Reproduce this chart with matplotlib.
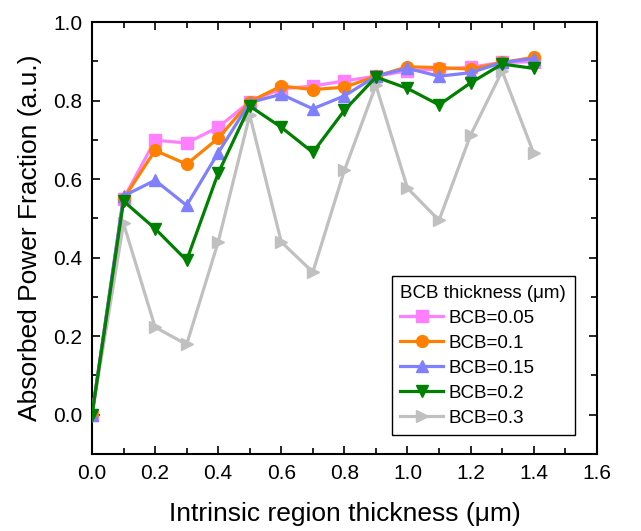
import matplotlib
matplotlib.use("Agg")
import matplotlib.pyplot as plt
from matplotlib.ticker import MultipleLocator

plt.rcParams['font.family'] = ['Liberation Sans', 'DejaVu Sans']

x = [0.0, 0.1, 0.2, 0.3, 0.4, 0.5, 0.6, 0.7, 0.8, 0.9, 1.0, 1.1, 1.2, 1.3, 1.4]
bcb_005 = [0.0, 0.55, 0.699, 0.692, 0.732, 0.797, 0.830, 0.837, 0.850, 0.862, 0.876, 0.880, 0.885, 0.897, 0.899]
bcb_010 = [0.0, 0.55, 0.673, 0.638, 0.704, 0.797, 0.837, 0.828, 0.834, 0.862, 0.886, 0.884, 0.880, 0.897, 0.910]
bcb_015 = [0.0, 0.557, 0.597, 0.533, 0.667, 0.795, 0.816, 0.779, 0.812, 0.862, 0.882, 0.862, 0.871, 0.897, 0.907]
bcb_020 = [0.0, 0.544, 0.474, 0.393, 0.615, 0.786, 0.732, 0.668, 0.775, 0.860, 0.831, 0.789, 0.845, 0.893, 0.882]
bcb_030 = [0.0, 0.487, 0.223, 0.179, 0.440, 0.763, 0.440, 0.363, 0.622, 0.839, 0.577, 0.495, 0.712, 0.875, 0.666]

labels = ['BCB=0.05', 'BCB=0.1', 'BCB=0.15', 'BCB=0.2', 'BCB=0.3']
colors = ['#FF80FF', '#FF8000', '#8080FF', '#008000', '#C0C0C0']
markers = ['s', 'o', '^', 'v', '>']
series = [bcb_005, bcb_010, bcb_015, bcb_020, bcb_030]

fig = plt.figure(figsize=(6.41, 5.31), dpi=100)
ax = fig.add_axes([0.1435, 0.145, 0.7875, 0.8135])

zorders = [3, 4, 5, 6, 2]
for ys, lab, c, m, z in zip(series, labels, colors, markers, zorders):
    ax.plot(x, ys, color=c, marker=m, markersize=8.5, linewidth=2.3,
            markeredgecolor=c, label=lab, zorder=z)

ax.set_xlim(0, 1.6)
ax.set_ylim(-0.1, 1.0)
ax.xaxis.set_major_locator(MultipleLocator(0.2))
ax.xaxis.set_minor_locator(MultipleLocator(0.1))
ax.yaxis.set_major_locator(MultipleLocator(0.2))
ax.yaxis.set_minor_locator(MultipleLocator(0.1))
ax.xaxis.set_major_formatter(plt.FormatStrFormatter('%.1f'))
ax.yaxis.set_major_formatter(plt.FormatStrFormatter('%.1f'))
ax.tick_params(which='both', direction='in', top=True, right=True, width=1.2, labelsize=15)
ax.tick_params(which='major', length=6, pad=7)
ax.tick_params(which='minor', length=4)
for sp in ax.spines.values():
    sp.set_linewidth(1.5)

ax.set_xlabel('Intrinsic region thickness (μm)', fontsize=19, labelpad=14)
ax.set_ylabel('Absorbed Power Fraction (a.u.)', fontsize=19, labelpad=8)

leg = ax.legend(title='BCB thickness (μm)', loc='lower right', bbox_to_anchor=(0.956, 0.044),
                fontsize=13.5, title_fontsize=13.5, frameon=True, fancybox=False,
                edgecolor='black', framealpha=1, handlelength=2.3, handletextpad=0.27,
                labelspacing=0.42, borderpad=0.45, borderaxespad=0)
leg.get_frame().set_linewidth(1.0)
leg._legend_box.align = "left"

fig.savefig('out.png', dpi=100)
